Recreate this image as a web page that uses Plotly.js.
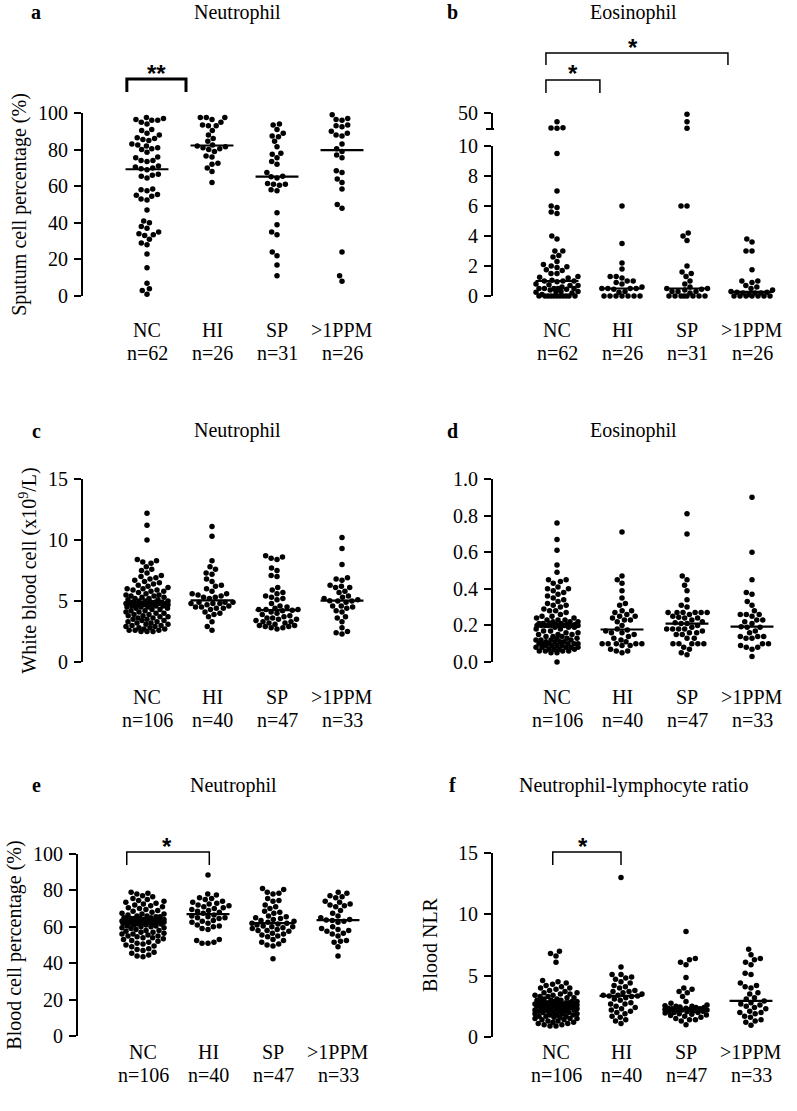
<!DOCTYPE html>
<html>
<head>
<meta charset="utf-8">
<script src="https://cdn.plot.ly/plotly-3.0.1.min.js"></script>
<style>body{margin:0;background:#fff}</style>
</head>
<body>
<div id="chart" style="width:797px;height:1111px"></div>
<script>
// groups and sample sizes
var groups = ['NC', 'HI', 'SP', '>1PPM'];
var sputumN = [62, 26, 31, 26];
var bloodN = [106, 40, 47, 33];

// a: sputum neutrophil (%)
var sputumNeuNC = [97.5, 97, 96.5, 96, 96, 95, 94, 91, 90.5, 89, 88, 86.5, 86, 85.5, 85,
  83, 82.5, 82, 81, 80.5, 80, 78.5, 76, 75.5, 74, 74, 73.5, 71, 70.5, 70, 69.5,
  69, 66.5, 66, 65.5, 64.5, 58.5, 58, 57.5, 55.5, 55, 54.5, 53, 52.5, 47,
  41, 40, 38, 37, 35, 34, 33.5, 33, 31, 29, 28, 23, 15.5, 7, 4, 3, 1];
var sputumNeuHI = [97.5, 97.5, 97.5, 96.5, 95, 93.5, 93, 93, 90.5, 88, 86, 84.5, 82.5,
  82, 81.5, 81, 80.5, 80, 79, 76.5, 76, 72.5, 72, 70, 68, 62];
var sputumNeuSP = [94, 93.5, 91, 89, 87.5, 87, 84.5, 81.5, 78, 77.5, 75.5, 73.5, 72, 67.5,
  65.5, 65.2, 64.5, 61.5, 61, 61, 60.5, 58, 57.5, 45.5, 39, 35, 33.5, 24, 22, 17, 11];
var sputumNeuPPM = [99, 97, 96.5, 96, 93.5, 93, 92.5, 90, 89, 88, 87.5, 83, 80.5, 79, 77,
  75.5, 68.5, 67.5, 64, 62, 58.5, 50, 48, 24, 11, 8];

// b: sputum eosinophil (%), values above 10 sit on the upper (broken) segment
var sputumEosNC = [28, 13, 12.5, 12, 9.5, 7.0, 6.0, 5.9, 5.6, 5.5, 4.0, 3.8, 3.0, 3.0, 2.7,
  2.6, 2.3, 2.1, 2.0, 1.95, 1.9, 1.75, 1.7, 1.5, 1.5, 1.3, 1.25, 1.2, 1.05, 1.0, 1.0, 1.0,
  0.95, 0.8, 0.75, 0.7, 0.7, 0.6, 0.5, 0.5, 0.5, 0.5, 0.5, 0.45, 0.4, 0.3, 0.3, 0.3, 0.25,
  0.2, 0.1, 0, 0, 0, 0, 0, 0, 0, 0, 0, 0, 0];
var sputumEosHI = [6.0, 3.5, 2.2, 1.8, 1.3, 1.3, 1.2, 1.0, 1.0, 0.9, 0.8, 0.6, 0.5, 0.5, 0.5,
  0.5, 0.45, 0.3, 0.25, 0, 0, 0, 0, 0, 0, 0];
var sputumEosSP = [47, 28, 12, 6.0, 6.0, 4.2, 4.0, 3.7, 2.0, 1.6, 1.5, 1.3, 1.0, 0.8, 0.6,
  0.5, 0.5, 0.45, 0.4, 0.3, 0.3, 0.3, 0.2, 0, 0, 0, 0, 0, 0, 0, 0];
var sputumEosPPM = [3.8, 3.6, 3.0, 3.0, 1.75, 1.0, 1.0, 0.9, 0.7, 0.6, 0.5, 0.4, 0.3, 0.25,
  0.25, 0.2, 0.2, 0.2, 0.1, 0, 0, 0, 0, 0, 0, 0];

// c: blood neutrophil count (x10^9/L)
var bloodNeuCountNC = [12.2, 11.2, 10.0, 8.4, 8.3, 8.2, 8.1, 7.8, 7.6, 7.5, 7.3,
  7.1, 7.0, 6.9, 6.8, 6.7, 6.6, 6.5, 6.4, 6.3, 6.2, 6.1, 6.0, 6.0, 5.9, 5.9, 5.8, 5.8, 5.7,
  5.6, 5.5, 5.5, 5.4, 5.4, 5.3, 5.3, 5.2, 5.2, 5.1, 5.1, 5.0, 5.0, 5.0, 4.9, 4.9, 4.9, 4.9,
  4.8, 4.8, 4.8, 4.8, 4.8, 4.8, 4.8, 4.7, 4.7, 4.7, 4.7, 4.6, 4.6, 4.6, 4.5, 4.5, 4.5, 4.4,
  4.4, 4.3, 4.3, 4.2, 4.2, 4.1, 4.1, 4.0, 4.0, 3.9, 3.9, 3.8, 3.8, 3.7, 3.7, 3.6, 3.6, 3.5,
  3.5, 3.4, 3.4, 3.3, 3.3, 3.2, 3.2, 3.1, 3.1, 3.0, 3.0, 2.9, 2.9, 2.8, 2.8, 2.7, 2.7,
  2.6, 2.6, 2.6, 2.5, 2.5, 2.5];
var bloodNeuCountHI = [11.1, 10.3, 8.3, 7.8, 7.6, 7.3, 7.2, 6.8, 6.6, 6.3, 6.2, 6.0, 5.8,
  5.6, 5.6, 5.5, 5.4, 5.3, 5.3, 5.2, 4.9, 4.9, 4.9, 4.8, 4.8, 4.8, 4.7, 4.6, 4.5, 4.5, 4.4,
  4.4, 4.3, 4.1, 4.0, 3.9, 3.7, 3.3, 2.9, 2.6];
var bloodNeuCountSP = [8.7, 8.6, 8.5, 8.4, 7.7, 7.5, 7.1, 7.0, 6.1, 5.9, 5.7, 5.6, 5.4, 5.3,
  5.2, 5.1, 4.8, 4.6, 4.5, 4.4, 4.3, 4.3, 4.3, 4.25, 4.2, 4.1, 4.0, 3.9, 3.8, 3.7, 3.6, 3.6,
  3.5, 3.5, 3.4, 3.3, 3.3, 3.2, 3.2, 3.1, 3.0, 3.0, 2.9, 2.9, 2.8, 2.8, 2.7];
var bloodNeuCountPPM = [10.2, 9.3, 8.0, 6.9, 6.8, 6.7, 6.3, 6.2, 6.1, 6.1, 5.8, 5.7, 5.4,
  5.3, 5.2, 5.1, 5.03, 5.0, 5.0, 4.9, 4.6, 4.6, 4.5, 4.4, 4.2, 4.1, 3.7, 3.6, 3.3, 2.8, 2.5,
  2.4, 2.3];

// d: blood eosinophil count (x10^9/L)
var bloodEosCountNC = [0.76, 0.67, 0.61, 0.53, 0.49, 0.45, 0.45, 0.44, 0.43,
  0.41, 0.40, 0.40, 0.39, 0.38, 0.37, 0.36, 0.35, 0.34, 0.33,
  0.32, 0.31, 0.31, 0.30, 0.29, 0.28, 0.28, 0.27, 0.26, 0.25,
  0.25, 0.24, 0.24, 0.23, 0.23, 0.23, 0.22, 0.22, 0.22, 0.21, 0.21, 0.21,
  0.21, 0.205, 0.205, 0.205, 0.20, 0.20, 0.20, 0.20, 0.20, 0.20, 0.20, 0.20,
  0.20, 0.19, 0.19, 0.19, 0.18, 0.18, 0.17, 0.17, 0.16, 0.16, 0.15, 0.15,
  0.15, 0.14, 0.14, 0.14, 0.13, 0.13, 0.13, 0.12, 0.12, 0.12, 0.12, 0.11,
  0.11, 0.11, 0.11, 0.10, 0.10, 0.10, 0.10, 0.10, 0.10, 0.09, 0.09, 0.09,
  0.09, 0.08, 0.08, 0.08, 0.08, 0.08, 0.07, 0.07, 0.07, 0.07, 0.06, 0.06,
  0.06, 0.06, 0.05, 0.05, 0.0];
var bloodEosCountHI = [0.71, 0.47, 0.45, 0.43, 0.39, 0.35, 0.32, 0.31, 0.28, 0.28, 0.27,
  0.26, 0.25, 0.25, 0.24, 0.23, 0.23, 0.22, 0.20, 0.18, 0.175, 0.17, 0.16, 0.16, 0.15, 0.14,
  0.13, 0.12, 0.11, 0.10, 0.10, 0.10, 0.10, 0.10, 0.09, 0.09, 0.07, 0.06, 0.06, 0.05];
var bloodEosCountSP = [0.81, 0.70, 0.47, 0.45, 0.42, 0.39, 0.34, 0.31, 0.30, 0.27, 0.27,
  0.27, 0.27, 0.27, 0.27, 0.26, 0.25, 0.245, 0.24, 0.24, 0.23, 0.22, 0.215, 0.21, 0.21, 0.20,
  0.19, 0.18, 0.18, 0.18, 0.18, 0.17, 0.16, 0.16, 0.15, 0.15, 0.13, 0.13, 0.10, 0.10, 0.10,
  0.10, 0.10, 0.08, 0.07, 0.05, 0.04];
var bloodEosCountPPM = [0.90, 0.60, 0.45, 0.38, 0.37, 0.33, 0.31, 0.28, 0.26, 0.26, 0.26,
  0.25, 0.23, 0.23, 0.22, 0.21, 0.193, 0.19, 0.19, 0.17, 0.16, 0.14, 0.14, 0.14, 0.13, 0.13,
  0.10, 0.10, 0.09, 0.08, 0.08, 0.07, 0.03];

// e: blood neutrophil (%)
var bloodNeuPctNC = [79, 78.5, 78, 77, 76.5, 75.5, 75, 74.5, 74, 73.5,
  73, 72.5, 72, 71.5, 71, 70.5, 70, 69.5, 69, 68.5,
  68, 67.5, 67, 67, 66.5, 66, 66, 65.5, 65.5, 65,
  65, 64.5, 64.5, 64.5, 64, 64, 64, 63.5, 63.5, 63.5,
  63.5, 63.5, 63.4, 63.3, 63.2, 63.1, 63, 63, 63, 63, 63, 63, 63,
  63, 62.5, 62.5, 62.5, 62.5, 62, 62, 62, 62, 61.5, 61.5,
  61, 61, 60.5, 60.5, 60, 60, 59.5, 59.5, 59, 58.5,
  58, 58, 57.5, 57, 57, 56.5, 56, 56, 55.5, 55,
  55, 54.5, 54, 54, 53.5, 53, 52.5, 52, 51.5, 51,
  50.5, 50, 49.5, 49, 48, 47.5, 47, 46, 45.5, 44.5, 44, 43.5];
var bloodNeuPctHI = [88.5, 78, 77.5, 76, 75.5, 75, 74, 73.5, 73, 72.5, 72, 71.5, 71, 70.5,
  70, 69.5, 69, 68.5, 68, 67.5, 66.5, 66, 65.5, 65, 65, 64.5, 63.5, 63, 62.5, 62, 61, 60.5,
  60, 59, 58.5, 53, 52.5, 51.5, 51, 51];
var bloodNeuPctSP = [81, 80.5, 79, 78.5, 78, 75.5, 74.5, 74, 72, 71, 70, 68.5, 68, 67.5, 66,
  65.5, 65, 64.5, 64, 63.5, 63, 62.5, 62, 62, 61.5, 61, 60.5, 60, 60, 59.5, 59, 58.5, 58, 58,
  57.5, 56.5, 56, 55.5, 55, 54.5, 53, 52.5, 51.5, 50.5, 50, 49.5, 42.5];
var bloodNeuPctPPM = [79, 78.5, 77, 76.5, 76, 74, 73.5, 72.5, 72, 71.5, 71, 69, 67.5, 66, 65,
  64, 63.7, 63.5, 63, 62.5, 60, 59, 58.5, 58, 57.5, 56.5, 56, 55, 52.5, 52, 51.5, 49, 44];

// f: neutrophil-lymphocyte ratio
var nlrNC = [7.0, 6.8, 6.6, 6.1,
  4.6, 4.5, 4.4, 4.3, 4.2, 4.1, 4.0, 4.0, 3.9, 3.8,
  3.7, 3.6, 3.6, 3.5, 3.5, 3.4, 3.4, 3.3, 3.3, 3.2,
  3.2, 3.1, 3.1, 3.0, 3.0, 3.0, 2.9, 2.9, 2.9, 2.9,
  2.8, 2.8, 2.8, 2.8, 2.8, 2.7, 2.7, 2.7, 2.7, 2.7, 2.7,
  2.7, 2.6, 2.6, 2.6, 2.6, 2.6, 2.6, 2.6, 2.6,
  2.5, 2.5, 2.5, 2.5, 2.5, 2.5, 2.4, 2.4, 2.4, 2.4, 2.4, 2.3,
  2.3, 2.3, 2.3, 2.2, 2.2, 2.2, 2.2, 2.1, 2.1, 2.1, 2.1, 2.0,
  2.0, 2.0, 1.9, 1.9, 1.9, 1.8, 1.8, 1.8, 1.7, 1.7, 1.7, 1.6,
  1.6, 1.5, 1.5, 1.5, 1.4, 1.4, 1.3, 1.3, 1.2, 1.2, 1.1, 1.1, 1.0, 1.0, 0.9, 0.9];
var nlrHI = [13.0, 5.7, 5.1, 5.1, 4.9, 4.8, 4.7, 4.5, 4.4, 4.2, 4.1, 4.0, 3.8, 3.7, 3.7, 3.6,
  3.5, 3.4, 3.4, 3.35, 3.35, 3.3, 3.2, 3.1, 3.0, 2.8, 2.7, 2.7, 2.5, 2.4, 2.3, 2.2, 2.1, 2.0,
  1.9, 1.7, 1.6, 1.4, 1.3, 1.1];
var nlrSP = [8.6, 6.4, 6.3, 6.1, 5.9, 4.85, 4.0, 3.9, 3.7, 3.6, 3.3, 2.9, 2.75, 2.6, 2.55,
  2.5, 2.5, 2.45, 2.4, 2.4, 2.35, 2.35, 2.3, 2.3, 2.25, 2.25, 2.2, 2.2, 2.2, 2.15, 2.1, 2.1,
  2.05, 2.0, 2.0, 1.95, 1.9, 1.85, 1.8, 1.75, 1.7, 1.6, 1.5, 1.4, 1.4, 1.3, 1.0];
var nlrPPM = [7.15, 6.7, 6.4, 6.3, 6.1, 5.9, 5.2, 5.1, 4.4, 4.2, 4.1, 4.0, 3.6, 3.5, 3.2, 3.1,
  2.94, 2.8, 2.7, 2.6, 2.5, 2.4, 2.3, 2.1, 2.0, 2.0, 1.9, 1.7, 1.6, 1.4, 1.3, 1.2, 0.95];

var W = 797, H = 1111;
var STEP = 65;       // px between groups
var DOT = 6;         // px between dot centres
var MAXW = 21;       // max half width of a swarm, px
var FONT = 'Liberation Serif, Times New Roman, serif';

function py(p) { return 1 - p / H; }

// beeswarm: offsets (in group units); dense rows are capped and overlap a bit
function swarm(vals, pxY) {
  var idx = vals.map(function(v, i) { return i; });
  idx.sort(function(a, b) { return vals[a] - vals[b]; });
  var placed = [];
  var out = [];
  idx.forEach(function(i) {
    var y = vals[i] * pxY;
    var near = placed.filter(function(p) { return Math.abs(p.y - y) < DOT; });
    var cands = [0];
    near.forEach(function(p) {
      var dx = Math.sqrt(DOT * DOT - (p.y - y) * (p.y - y));
      cands.push(p.x + dx, p.x - dx);
    });
    cands = cands.filter(function(c) { return Math.abs(c) <= MAXW; });
    cands.sort(function(a, b) { return Math.abs(a) - Math.abs(b) || a - b; });
    var best = null;
    for (var k = 0; k < cands.length && best === null; k++) {
      var c = cands[k];
      var ok = near.every(function(p) {
        return (p.x - c) * (p.x - c) + (p.y - y) * (p.y - y) >= DOT * DOT - 0.01;
      });
      if (ok) best = c;
    }
    if (best === null) {
      // no free spot inside the cap: take the least crowded one
      var bestD = -1;
      for (var s = 0; s <= 2 * MAXW; s++) {
        var c2 = (s % 2 ? -1 : 1) * Math.ceil(s / 2);
        var dmin = near.reduce(function(m, p) {
          return Math.min(m, Math.sqrt((p.x - c2) * (p.x - c2) + (p.y - y) * (p.y - y)));
        }, Infinity);
        if (dmin > bestD + 1e-6) { bestD = dmin; best = c2; }
      }
    }
    placed.push({x: best, y: y});
    out[i] = best / STEP;
  });
  return out;
}

function median(vals) {
  var s = vals.slice().sort(function(a, b) { return a - b; });
  var m = Math.floor(s.length / 2);
  return s.length % 2 ? s[m] : (s[m - 1] + s[m]) / 2;
}

var data = [];

function dots(vals, g, xa, ya, pxY) {
  var off = swarm(vals, pxY);
  data.push({
    type: 'scatter', mode: 'markers', xaxis: xa, yaxis: ya,
    x: vals.map(function(v, i) { return g + off[i]; }), y: vals,
    marker: {color: '#000', size: 5.5}, cliponaxis: false, hoverinfo: 'skip'
  });
}

function medLine(vals, g, xa, ya) {
  var m = median(vals);
  data.push({
    type: 'scatter', mode: 'lines', xaxis: xa, yaxis: ya,
    x: [g - 0.33, g + 0.33], y: [m, m],
    line: {color: '#000', width: 2.2}, cliponaxis: false, hoverinfo: 'skip'
  });
}

// panel geometry in pixels: y axis line x, first group x, plot top/bottom, label rows
var panels = [
  {k: '',  axisX: 83,  cat0: 147, top: 113, bottom: 296, range: [0, 100], tv: [0, 20, 40, 60, 80, 100],
   sets: [sputumNeuNC, sputumNeuHI, sputumNeuSP, sputumNeuPPM], n: sputumN,
   title: 'Sputum cell percentage (%)', lab: [330, 353], stand: 6},
  {k: '2', axisX: 493, cat0: 557, top: 146, bottom: 296, range: [0, 10], tv: [0, 2, 4, 6, 8, 10],
   sets: [sputumEosNC, sputumEosHI, sputumEosSP, sputumEosPPM], n: sputumN, title: '', cut: 10,
   lab: [330, 353], stand: 6},
  {k: '3', axisX: 83,  cat0: 147, top: 479, bottom: 662, range: [0, 15], tv: [0, 5, 10, 15],
   sets: [bloodNeuCountNC, bloodNeuCountHI, bloodNeuCountSP, bloodNeuCountPPM], n: bloodN,
   title: 'White blood cell (x10<sup>9</sup>/L)', lab: [697, 720], stand: 6},
  {k: '4', axisX: 493, cat0: 557, top: 479, bottom: 662, range: [0, 1], tv: [0, 0.2, 0.4, 0.6, 0.8, 1.0],
   sets: [bloodEosCountNC, bloodEosCountHI, bloodEosCountSP, bloodEosCountPPM], n: bloodN,
   title: '', fmt: '.1f', lab: [697, 720], stand: 6},
  {k: '5', axisX: 78,  cat0: 143, top: 854, bottom: 1036, range: [0, 100], tv: [0, 20, 40, 60, 80, 100],
   sets: [bloodNeuPctNC, bloodNeuPctHI, bloodNeuPctSP, bloodNeuPctPPM], n: bloodN,
   title: 'Blood cell percentage (%)', lab: [1052, 1075], stand: 6},
  {k: '6', axisX: 493, cat0: 556, top: 853, bottom: 1037, range: [0, 15], tv: [0, 5, 10, 15],
   sets: [nlrNC, nlrHI, nlrSP, nlrPPM], n: bloodN, title: 'Blood NLR', lab: [1052, 1075], stand: 15}
];

var layout = {
  width: W, height: H, margin: {l: 0, r: 0, t: 0, b: 0},
  paper_bgcolor: '#fff', plot_bgcolor: 'rgba(0,0,0,0)', showlegend: false,
  font: {family: FONT, color: '#000', size: 20},
  shapes: [], annotations: []
};

var WIDTH = 300;
panels.forEach(function(p) {
  var xa = 'x' + p.k, ya = 'y' + p.k;
  var r0 = (p.axisX - p.cat0) / STEP;
  layout['xaxis' + p.k] = {
    domain: [p.axisX / W, (p.axisX + WIDTH) / W], range: [r0, r0 + WIDTH / STEP],
    anchor: ya, showline: false, showgrid: false, zeroline: false, ticks: '',
    showticklabels: false, fixedrange: true
  };
  var yax = {
    domain: [py(p.bottom), py(p.top)], range: p.range, anchor: xa,
    showline: true, linewidth: 2, linecolor: '#000', ticks: 'outside', ticklen: 7,
    tickwidth: 2, tickcolor: '#000', showgrid: false, zeroline: false,
    tickvals: p.tv, tickformat: p.fmt || '', tickfont: {size: 20}, ticklabelstandoff: 2,
    fixedrange: true
  };
  if (p.title) yax.title = {text: p.title, font: {size: 20}, standoff: p.stand};
  layout['yaxis' + p.k] = yax;
  // group names and sizes under each swarm
  groups.forEach(function(gname, g) {
    layout.annotations.push({xref: xa, yref: 'paper', x: g, y: py(p.lab[0]), text: gname,
      showarrow: false, font: {size: 20}, yanchor: 'middle'});
    layout.annotations.push({xref: xa, yref: 'paper', x: g, y: py(p.lab[1]), text: 'n=' + p.n[g],
      showarrow: false, font: {size: 20}, yanchor: 'middle'});
  });
  var pxY = (p.bottom - p.top) / (p.range[1] - p.range[0]);
  p.sets.forEach(function(vals, g) {
    var low = p.cut ? vals.filter(function(v) { return v <= p.cut; }) : vals;
    dots(low, g, xa, ya, pxY);
    medLine(vals, g, xa, ya);
  });
});

// upper segment of the broken axis in panel b (10 to 50)
var upTop = 113, upBottom = 129, upRange = [10, 50];
layout.yaxis7 = {
  domain: [py(upBottom), py(upTop)], range: upRange, anchor: 'x2',
  showline: true, linewidth: 2, linecolor: '#000', ticks: 'outside', ticklen: 7,
  tickwidth: 2, tickcolor: '#000', showgrid: false, zeroline: false,
  tickvals: [50], tickfont: {size: 20}, ticklabelstandoff: 2,
  fixedrange: true
};
// closing stub at the lower end of the upper segment
layout.shapes.push({type: 'line', xref: 'paper', yref: 'paper',
  x0: (panels[1].axisX - 7) / W, x1: (panels[1].axisX + 1) / W, y0: py(upBottom), y1: py(upBottom),
  line: {color: '#000', width: 2}});
panels[1].sets.forEach(function(vals, g) {
  var high = vals.filter(function(v) { return v > 10; });
  if (high.length) dots(high, g, 'x2', 'y7', (upBottom - upTop) / (upRange[1] - upRange[0]));
});

// panel titles and letters
var heads = [
  ['a', 'Neutrophil', 36, 237, 12], ['b', 'Eosinophil', 452, 633, 12],
  ['c', 'Neutrophil', 36, 237, 431], ['d', 'Eosinophil', 452, 633, 431],
  ['e', 'Neutrophil', 36, 233, 785], ['f', 'Neutrophil-lymphocyte ratio', 452, 633, 785]
];
heads.forEach(function(h) {
  layout.annotations.push({xref: 'paper', yref: 'paper', x: h[2] / W, y: py(h[4]),
    text: '<b>' + h[0] + '</b>', showarrow: false, font: {size: 20}, xanchor: 'center', yanchor: 'middle'});
  layout.annotations.push({xref: 'paper', yref: 'paper', x: h[3] / W, y: py(h[4]),
    text: h[1], showarrow: false, font: {size: 20}, xanchor: 'center', yanchor: 'middle'});
});

// significance brackets: [xaxis, from, to, top px, leg end px, stars, line width, star x]
var brackets = [
  ['x', -0.31, 0.6, 79, 92, '**', 3, 0.14],
  ['x2', -0.17, 2.63, 53, 65, '*', 1.5, 1.17],
  ['x2', -0.17, 0.66, 80, 93, '*', 1.5, 0.25],
  ['x5', -0.25, 1.02, 852, 865, '*', 1.5, 0.37],
  ['x6', -0.05, 1.0, 852, 865, '*', 1.5, 0.42]
];
brackets.forEach(function(b) {
  layout.shapes.push({type: 'path', xref: b[0], yref: 'paper',
    path: 'M' + b[1] + ',' + py(b[4]) + ' L' + b[1] + ',' + py(b[3]) +
          ' L' + b[2] + ',' + py(b[3]) + ' L' + b[2] + ',' + py(b[4]),
    line: {color: '#000', width: b[6]}});
  layout.annotations.push({xref: b[0], yref: 'paper', x: b[7], y: py(b[3] - 6),
    text: '<b>' + b[5] + '</b>', showarrow: false, yanchor: 'middle',
    font: {size: 24, family: 'Liberation Sans, Arial, sans-serif'}});
});

Plotly.newPlot('chart', data, layout, {staticPlot: true});
</script>
</body>
</html>
